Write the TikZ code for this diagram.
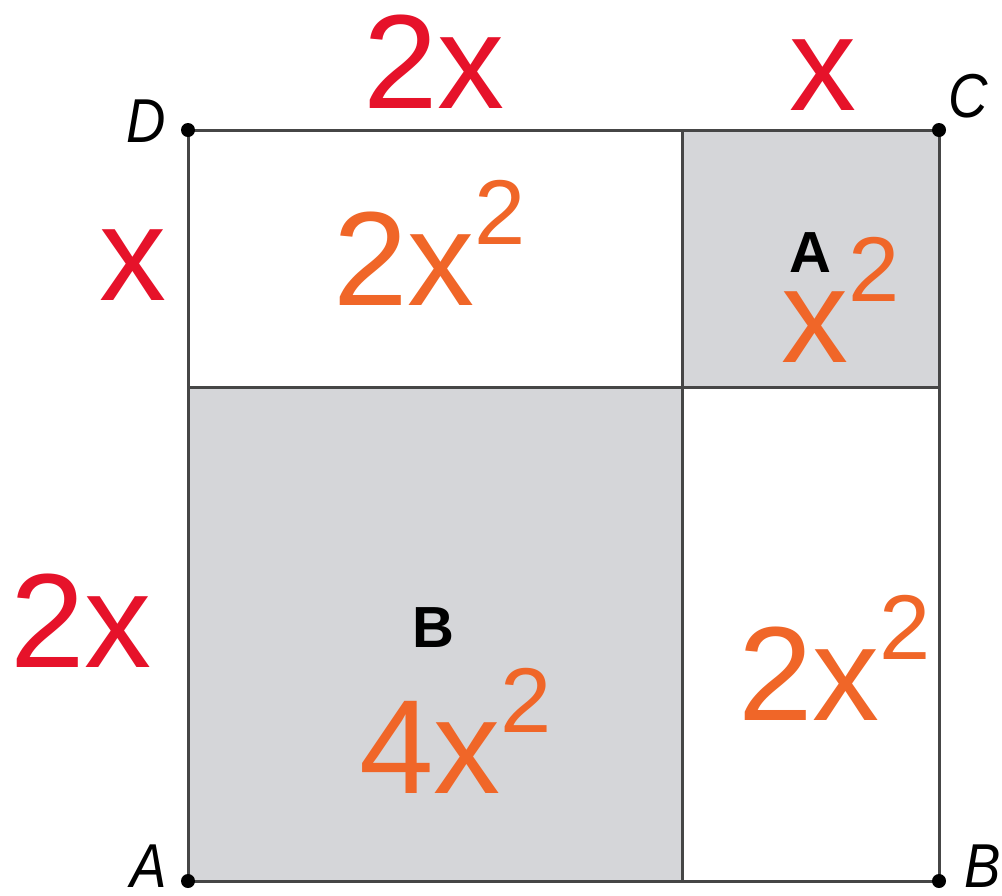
\documentclass[tikz,border=0pt]{standalone}
\usepackage{fontspec}
\setmainfont{Liberation Sans}
\definecolor{redlab}{RGB}{230,18,42}
\definecolor{orlab}{RGB}{240,102,40}
\definecolor{cellgray}{RGB}{213,214,217}
\definecolor{edgegray}{RGB}{70,70,70}
\newcommand{\sqsup}{\raisebox{61pt}{\fontsize{92}{92}\selectfont 2}}
\newcommand{\condensed}[1]{\scalebox{0.88}[1]{#1}}
\tikzset{
  side/.style={text=redlab, font=\fontsize{134}{134}\selectfont, inner sep=0pt, anchor=base west},
  area/.style={text=orlab, font=\fontsize{134}{134}\selectfont, inner sep=0pt, anchor=base west},
  regionlab/.style={text=black, font=\fontsize{58}{58}\selectfont\bfseries, inner sep=0pt, anchor=base west},
  pointlab/.style={text=black, font=\fontsize{62}{62}\selectfont\itshape, inner sep=0pt, anchor=base west},
  gridline/.style={draw=edgegray, line width=3pt},
  vertex/.style={fill=black}
}
\begin{document}
\begin{tikzpicture}[x=1pt,y=-1pt]
\useasboundingbox (0,0) rectangle (1002,895);
\fill[white] (0,0) rectangle (1002,895);
% corners
\coordinate (A) at (188,881);
\coordinate (B) at (939,881);
\coordinate (C) at (939,130);
\coordinate (D) at (188,130);
\coordinate (Top) at (682,130);
\coordinate (Bot) at (682,881);
\coordinate (Lft) at (188,387);
\coordinate (Rgt) at (939,387);
\coordinate (Mid) at (682,387);
% shaded cells
\fill[cellgray] (Top) rectangle (Rgt);
\fill[cellgray] (Lft) rectangle (Bot);
% lines
\draw[gridline] (A) -- (B) -- (C) -- (D) -- cycle;
\draw[gridline] (Top) -- (Bot);
\draw[gridline] (Lft) -- (Rgt);
% vertices
\foreach \p in {A,B,C,D} \fill[vertex] (\p) circle (7);
% point labels
\node[pointlab] (lD) at (126,142) {\condensed{D}};
\node[pointlab] (lC) at (948,117) {\condensed{C}};
\node[pointlab] (lA) at (130,887) {\condensed{A}};
\node[pointlab] (lB) at (964,887) {\condensed{B}};
% side lengths
\node[side] (s1) at (363,108) {2x};
\node[side] (s2) at (789,110) {x};
\node[side] (s3) at (99,300) {x};
\node[side] (s4) at (10,667) {2x};
% areas
\node[area] (a1) at (333,305) {2x\sqsup};
\node[area] (a2) at (738,720) {2x\sqsup};
\node[area] (a3) at (781,362) {x\sqsup};
\node[area] (a4) at (359,793) {4x\sqsup};
% region labels
\node[regionlab] (rA) at (789,272) {A};
\node[regionlab] (rB) at (412,647) {B};
\end{tikzpicture}
\end{document}
